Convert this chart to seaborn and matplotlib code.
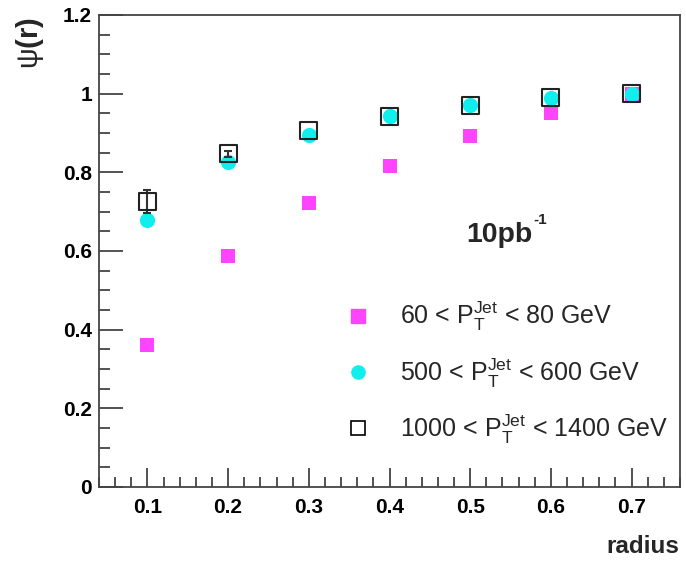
import numpy as np
import pandas as pd
import matplotlib
matplotlib.use("Agg")
import matplotlib.pyplot as plt
import seaborn as sns
from matplotlib.lines import Line2D
from matplotlib.ticker import MultipleLocator, FixedLocator, FixedFormatter

sns.set_theme(style="ticks")
plt.rcParams['font.family'] = ['Liberation Sans', 'DejaVu Sans']
plt.rcParams['mathtext.fontset'] = 'custom'
plt.rcParams['mathtext.rm'] = 'Liberation Sans'
plt.rcParams['mathtext.it'] = 'Liberation Sans'
plt.rcParams['mathtext.bf'] = 'Liberation Sans:bold'

radius = [0.1, 0.2, 0.3, 0.4, 0.5, 0.6, 0.7]
psi_60_80 = [0.360, 0.588, 0.722, 0.817, 0.893, 0.952, 1.0]
psi_500_600 = [0.679, 0.826, 0.896, 0.942, 0.970, 0.989, 1.0]
psi_1000_1400 = [0.726, 0.847, 0.907, 0.942, 0.970, 0.989, 1.0]
err_1000_1400 = [0.030, 0.008, 0.0, 0.0, 0.0, 0.0, 0.0]

x_ticks = [0.1, 0.2, 0.3, 0.4, 0.5, 0.6, 0.7]
x_ticklabels = ["0.1", "0.2", "0.3", "0.4", "0.5", "0.6", "0.7"]
y_ticks = [0, 0.2, 0.4, 0.6, 0.8, 1.0, 1.2]
y_ticklabels = ["0", "0.2", "0.4", "0.6", "0.8", "1", "1.2"]

labels = [r"60 < $\mathregular{P_T^{Jet}}$ < 80 GeV",
          r"500 < $\mathregular{P_T^{Jet}}$ < 600 GeV",
          r"1000 < $\mathregular{P_T^{Jet}}$ < 1400 GeV"]

df = pd.DataFrame({"radius": radius, "a": psi_60_80, "b": psi_500_600, "c": psi_1000_1400,
                   "err": err_1000_1400})

fig = plt.figure(figsize=(6.86, 5.61), dpi=100)
ax = fig.add_axes([99/686, 1-487/561, (680-99)/686, (487-15)/561])

magenta = "#ff44ff"
cyan = "#11eeee"

sns.scatterplot(data=df, x="radius", y="a", ax=ax, marker="s", s=110, color=magenta,
                edgecolor=magenta, linewidth=0, zorder=3)
sns.scatterplot(data=df, x="radius", y="b", ax=ax, marker="o", s=120, color=cyan,
                edgecolor=cyan, linewidth=0, zorder=4)
de = df[df["err"] > 0]
ax.errorbar(de["radius"], de["c"], yerr=de["err"], fmt="none", ecolor="#333333",
            elinewidth=1.5, capsize=3, capthick=1.5, zorder=5)
sns.scatterplot(data=df, x="radius", y="c", ax=ax, marker="s", s=150, facecolor="none",
                edgecolor="#222222", linewidth=1.5, zorder=6)

ax.set_xlim(0.04, 0.76)
ax.set_ylim(0, 1.2)
ax.xaxis.set_major_locator(FixedLocator(x_ticks))
ax.xaxis.set_major_formatter(FixedFormatter(x_ticklabels))
ax.xaxis.set_minor_locator(MultipleLocator(0.02))
ax.yaxis.set_major_locator(FixedLocator(y_ticks))
ax.yaxis.set_major_formatter(FixedFormatter(y_ticklabels))
ax.yaxis.set_minor_locator(MultipleLocator(0.05))
ax.tick_params(axis="both", which="major", direction="in", labelsize=15, width=1.3,
               color="#444444", labelcolor="black")
ax.tick_params(axis="y", which="major", length=17, pad=5)
ax.tick_params(axis="x", which="major", length=14, pad=8)
ax.tick_params(axis="y", which="minor", direction="in", length=8, width=1.3, color="#444444")
ax.tick_params(axis="x", which="minor", direction="in", length=7, width=1.3, color="#444444")
for lab in ax.get_xticklabels() + ax.get_yticklabels():
    lab.set_fontweight("bold")
for sp in ax.spines.values():
    sp.set_visible(True)
    sp.set_color("#444444")
    sp.set_linewidth(1.3)

ax.set_xlabel("")
ax.set_ylabel("")
fig.text(679/686, 1-553/561, "radius", ha="right", va="baseline", fontsize=17.5,
         fontweight="bold")
fig.text(30/686, 1-17/561, r"$\psi$(r)", ha="center", va="top", rotation=90, fontsize=21,
         fontweight="bold")
fig.text(532/686, 1-242/561, "10pb", ha="right", va="baseline", fontsize=20.5,
         fontweight="bold")
fig.text(533/686, 1-213/561, "-1", ha="left", va="top", fontsize=11, fontweight="bold")

handles = [
    Line2D([], [], marker="s", linestyle="none", markersize=9.5, markerfacecolor=magenta,
           markeredgecolor=magenta),
    Line2D([], [], marker="o", linestyle="none", markersize=9.5, markerfacecolor=cyan,
           markeredgecolor=cyan),
    Line2D([], [], marker="s", linestyle="none", markersize=9.5, markerfacecolor="white",
           markeredgecolor="black", markeredgewidth=1.2),
]
ax.legend(handles, labels, loc="upper left", bbox_to_anchor=(333/686, 1-290/561),
          bbox_transform=fig.transFigure, frameon=False, fontsize=18, labelspacing=0.92,
          handletextpad=1.1, handlelength=1.2, borderaxespad=0)

fig.savefig("out.png", dpi=100)
